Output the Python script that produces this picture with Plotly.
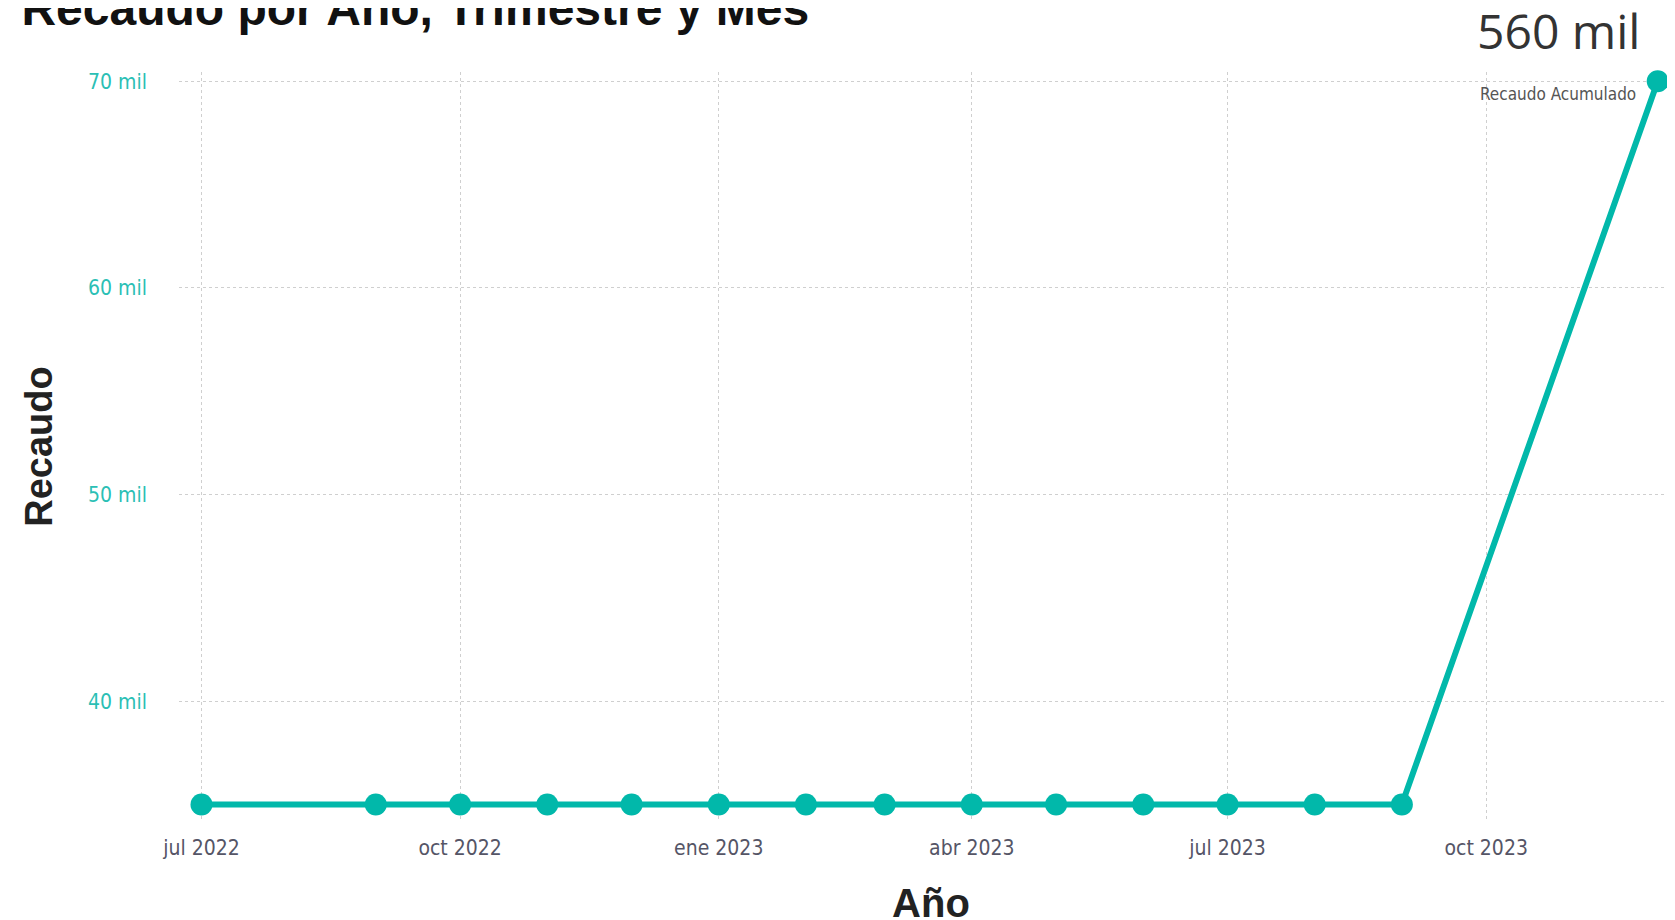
import plotly.graph_objects as go

meses = ["2022-07-01", "2022-09-01", "2022-10-01", "2022-11-01", "2022-12-01",
         "2023-01-01", "2023-02-01", "2023-03-01", "2023-04-01", "2023-05-01",
         "2023-06-01", "2023-07-01", "2023-08-01", "2023-09-01", "2023-12-01"]
recaudo = [35000, 35000, 35000, 35000, 35000, 35000, 35000, 35000, 35000, 35000,
           35000, 35000, 35000, 35000, 70000]

tick_x = ["2022-07-01", "2022-10-01", "2023-01-01", "2023-04-01", "2023-07-01", "2023-10-01"]
tick_x_text = ["jul 2022", "oct 2022", "ene 2023", "abr 2023", "jul 2023", "oct 2023"]
tick_y = [40000, 50000, 60000, 70000]
tick_y_text = ["40 mil", "50 mil", "60 mil", "70 mil"]

total_text = "560 mil"
total_label = "Recaudo Acumulado"

teal = "#01B8AA"
narrow = "DejaVu Sans Condensed, Liberation Sans Narrow, DejaVu Sans, sans-serif"
bold_font = "Liberation Sans, Arial, sans-serif"

fig = go.Figure()
fig.add_trace(go.Scatter(
    x=meses, y=recaudo, mode="lines+markers",
    line=dict(color=teal, width=6),
    marker=dict(color=teal, size=22),
    hoverinfo="x+y", showlegend=False, cliponaxis=False,
))

fig.update_layout(
    width=1675, height=920,
    margin=dict(l=171, r=0, t=64, b=107),
    paper_bgcolor="white", plot_bgcolor="white",
    title=dict(text="<b>Recaudo por Año, Trimestre y Mes</b>",
               x=0.008, xanchor="left", y=1.0, yanchor="middle",
               font=dict(family=bold_font, size=48, color="#111111")),
    xaxis=dict(
        type="date",
        range=["2022-06-23", "2023-12-10"],
        tickvals=tick_x, ticktext=tick_x_text,
        tickfont=dict(family=narrow, size=21, color="#555566"),
        showgrid=True, gridcolor="#CFCFCF", griddash="dot", gridwidth=1,
        zeroline=False, showline=False, ticks="",
        ticklabelstandoff=12,
        title=dict(text="<b>Año</b>", standoff=29,
                   font=dict(family=bold_font, size=40, color="#222222")),
    ),
    yaxis=dict(
        range=[34200, 70450],
        tickvals=tick_y, ticktext=tick_y_text,
        tickfont=dict(family=narrow, size=21, color="#2BBFB5"),
        showgrid=True, gridcolor="#CFCFCF", griddash="dot", gridwidth=1,
        zeroline=False, showline=False, ticks="",
        ticklabelstandoff=31,
        title=dict(text="<b>Recaudo</b>", standoff=23,
                   font=dict(family=bold_font, size=38, color="#222222")),
    ),
    annotations=[
        dict(text=total_text, xref="paper", yref="paper", x=0.917, y=1.055,
             xanchor="center", yanchor="middle", showarrow=False,
             font=dict(family="Open Sans, Noto Sans, sans-serif", size=48, color="#333333")),
        dict(text=total_label, xref="paper", yref="paper", x=0.917, y=0.970,
             xanchor="center", yanchor="middle", showarrow=False,
             font=dict(family=narrow, size=17, color="#555555")),
    ],
)

fig.write_html("out.html")
